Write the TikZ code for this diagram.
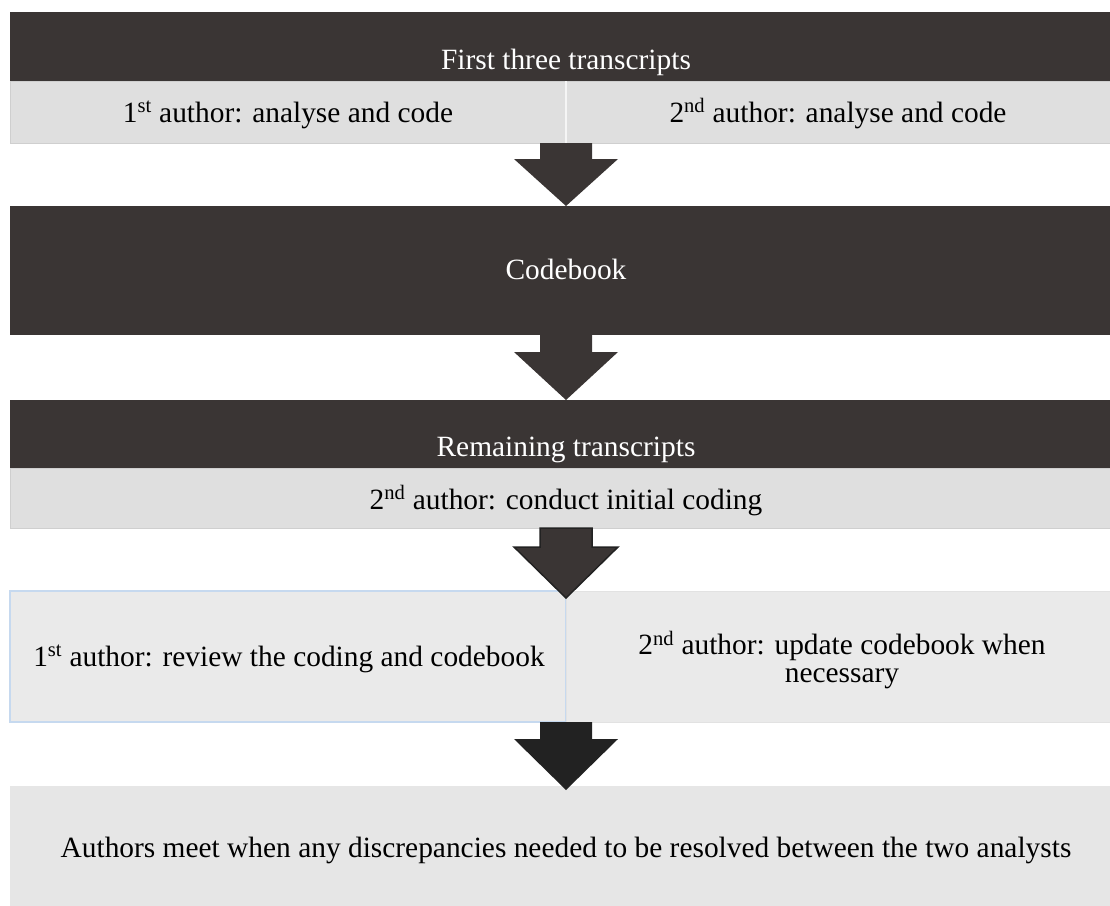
\documentclass[tikz,border=0pt]{standalone}
\usepackage{fontspec}
\setmainfont{Liberation Serif}
\usetikzlibrary{calc}
\definecolor{darkfill}{HTML}{3A3534}
\definecolor{rowfill}{HTML}{DFDFDF}
\definecolor{cellfill}{HTML}{EAEAEA}
\definecolor{lastfill}{HTML}{E6E6E6}
\definecolor{arrowblack}{HTML}{222222}
\definecolor{bluish}{HTML}{C6D9EF}
\definecolor{sepgray}{HTML}{CFCFCF}
\definecolor{cellline}{HTML}{E2E2E2}
\newcommand{\flowdown}[4]{%
  \path[#1] let \p1=(#2), \p2=(#3) in
    ({\x1-26pt},\y1) -- ({\x1+26pt},\y1) -- ({\x1+26pt},{\y1-#4pt}) --
    ({\x1+52pt},{\y1-#4pt}) -- (\x1,\y2) -- ({\x1-52pt},{\y1-#4pt}) --
    ({\x1-26pt},{\y1-#4pt}) -- cycle;}
\begin{document}
\begin{tikzpicture}[x=1pt,y=1pt,
  box/.style={rectangle, inner sep=0pt, outer sep=0pt, anchor=north west},
  darkbox/.style={box, fill=darkfill},
  rowbox/.style={box, fill=rowfill, draw=sepgray, line width=1pt},
  cellbox/.style={box, fill=cellfill, draw=cellline, line width=1pt},
  bluebox/.style={box, fill=cellfill, draw=bluish, line width=1.5pt},
  lastbox/.style={box, fill=lastfill},
  txt/.style={font=\fontsize{29.4}{30}\selectfont, anchor=base, inner sep=0pt, text=black},
  wtxt/.style={txt, text=white},
  flowarrow/.style={fill=darkfill},
  flowarrowedge/.style={fill=darkfill, draw=arrowblack, line width=1.5pt, line join=miter},
  flowarrowblack/.style={fill=arrowblack},
]
\useasboundingbox (0,0) rectangle (1110,-905);
\clip (0,0) rectangle (1110,-905);

% boxes
\node[darkbox, minimum width=1112pt, minimum height=69pt] (b1) at (10,-12) {};
\node[rowbox, minimum width=556pt, minimum height=62pt] (b1L) at (10,-81) {};
\node[rowbox, minimum width=556pt, minimum height=62pt] (b1R) at (566,-81) {};
\draw[white!92!gray, line width=1.2pt] (b1L.north east) -- (b1L.south east);

\node[darkbox, minimum width=1112pt, minimum height=129pt] (b2) at (10,-206) {};

\node[darkbox, minimum width=1112pt, minimum height=68pt] (b3) at (10,-400) {};
\node[rowbox, minimum width=1112pt, minimum height=60pt] (b3L) at (10,-468) {};

\node[bluebox, minimum width=556pt, minimum height=131pt] (b4L) at (10,-591) {};
\node[cellbox, minimum width=556pt, minimum height=131pt] (b4R) at (566,-591) {};

\node[lastbox, minimum width=1112pt, minimum height=130pt] (b5) at (10,-786) {};

% texts
\node[wtxt] (t1) at (566,-69) {First three transcripts};
\node[txt] (t1L) at (288,-122) {1\textsuperscript{st} author: analyse and code};
\node[txt] (t1R) at (838,-122) {2\textsuperscript{nd} author: analyse and code};
\node[wtxt] (t2) at (566,-279) {Codebook};
\node[wtxt] (t3) at (566,-456) {Remaining transcripts};
\node[txt] (t3L) at (566,-509) {2\textsuperscript{nd} author: conduct initial coding};
\node[txt] (t4L) at (289,-666) {1\textsuperscript{st} author: review the coding and codebook};
\node[txt, anchor=center, align=center] (t4R) at (842,-660.5) {2\textsuperscript{nd} author: update codebook when\\[-2pt]necessary};
\node[txt] (t5) at (566,-857) {Authors meet when any discrepancies needed to be resolved between the two analysts};

% connectors
\flowdown{flowarrow}{b1L.south east}{b2.north}{16}
\flowdown{flowarrow}{b2.south}{b3.north}{17}
\flowdown{flowarrowedge}{b3L.south}{$(b4L.north east)+(0,-7)$}{19}
\flowdown{flowarrowblack}{b4L.south east}{$(b5.north)+(0,-4)$}{17}
\end{tikzpicture}
\end{document}
